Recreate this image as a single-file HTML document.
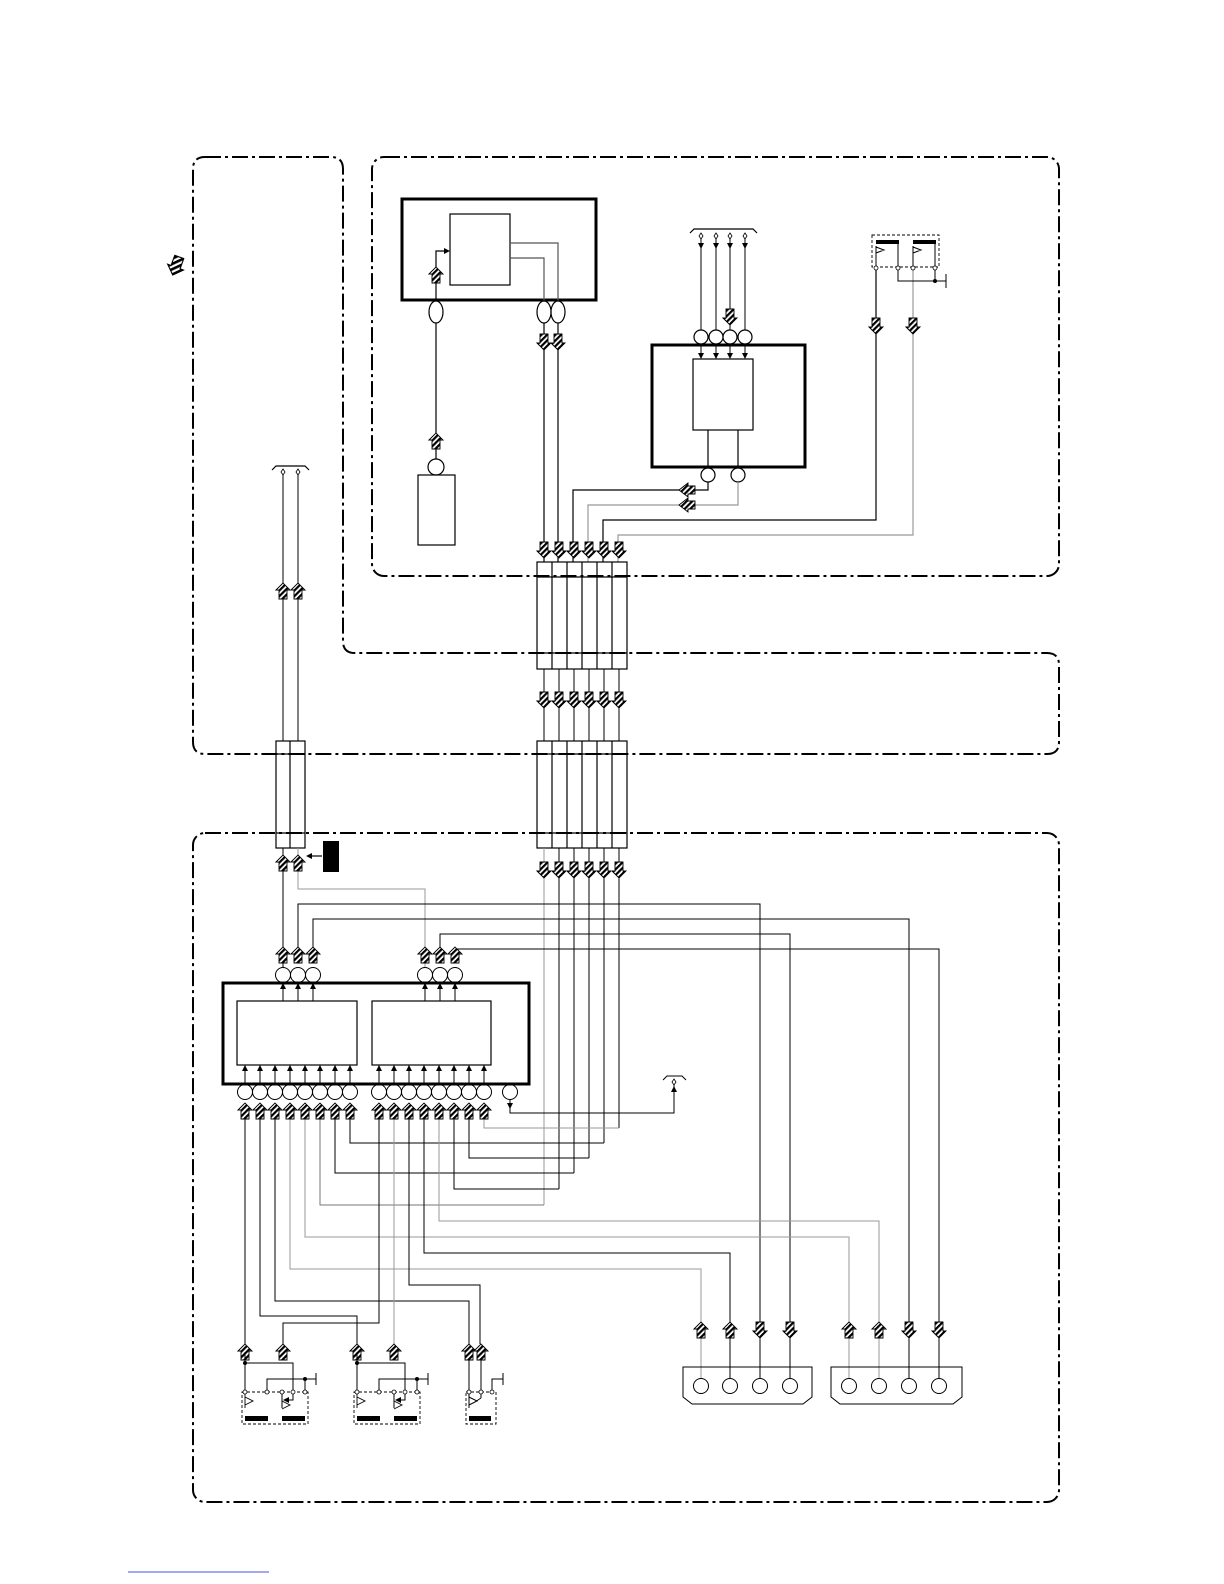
<!DOCTYPE html>
<html><head><meta charset="utf-8"><style>html,body{margin:0;padding:0;background:#fff}svg{display:block}</style></head>
<body>
<svg width="1224" height="1584" viewBox="0 0 1224 1584" xmlns="http://www.w3.org/2000/svg">
<defs>
<pattern id="h" width="4" height="4" patternUnits="userSpaceOnUse" patternTransform="rotate(45)"><rect width="4" height="4" fill="#fff"/><rect width="2.2" height="4" fill="#000"/></pattern>
<g id="ua"><path d="M-7,-1 L0,-8 L7,-1 L4,-1 L4,8 L-4,8 L-4,-1 Z" fill="url(#h)" stroke="#000" stroke-width="0.9"/></g>
<g id="da"><path d="M-7,1 L0,8 L7,1 L4,1 L4,-8 L-4,-8 L-4,1 Z" fill="url(#h)" stroke="#000" stroke-width="0.9"/></g>
<g id="la"><path d="M1,-7 L-8,0 L1,7 L1,4 L8,4 L8,-4 L1,-4 Z" fill="url(#h)" stroke="#000" stroke-width="0.9"/></g>
<path id="tu" d="M-3,0 L3,0 L0,-6 Z" fill="#000"/>
<path id="td" d="M-3,0 L3,0 L0,6 Z" fill="#000"/>
<path id="tr" d="M0,-3 L0,3 L6,0 Z" fill="#000"/>
<path id="tl" d="M0,-3 L0,3 L-6,0 Z" fill="#000"/>
<g id="sw">
 <rect x="-3" y="1392" width="66" height="32" fill="none" stroke="#000" stroke-width="0.9" stroke-dasharray="3 2"/>
 <path d="M0,1352 V1392 M0,1363 H48 V1392 M22,1392 V1379 H71 M71,1373 V1385 M60,1379 V1392 M37,1392 V1408 M48,1392 V1400 H43" fill="none" stroke="#000" stroke-width="1"/>
 <use href="#tl" x="44" y="1400"/>
 <path d="M0,1392 V1408 M0,1397 L8,1401 L0,1405 M37,1401 L45,1405 L37,1409" fill="none" stroke="#000" stroke-width="0.9"/>
 <circle cx="0" cy="1363" r="2" fill="#000"/><circle cx="60" cy="1379" r="2" fill="#000"/>
 <g fill="#fff" stroke="#000" stroke-width="0.8"><circle cx="0" cy="1392" r="2"/><circle cx="22" cy="1392" r="2"/><circle cx="37" cy="1392" r="2"/><circle cx="48" cy="1392" r="2"/><circle cx="60" cy="1392" r="2"/></g>
 <rect x="0" y="1416" width="23" height="5" fill="#000"/><rect x="37" y="1416" width="23" height="5" fill="#000"/>
</g>
</defs>

<g fill="none" stroke="#000" stroke-width="2" stroke-dasharray="16 4 3 4">
<path d="M205,157 H331 Q343,157 343,169 V641 Q343,653 355,653 H1047 Q1059,653 1059,665 V742 Q1059,754 1047,754 H205 Q193,754 193,742 V169 Q193,157 205,157 Z"/>
<rect x="372" y="157" width="687" height="419" rx="12"/>
<rect x="193" y="833" width="866" height="669" rx="12"/>
</g>

<use href="#da" transform="translate(176,266) rotate(20) scale(1.2)"/>

<!-- Box1 -->
<g fill="none" stroke="#000" stroke-width="1.2">
<rect x="402" y="199" width="194" height="101" stroke-width="3"/>
<rect x="450" y="214" width="60" height="71"/>
<path d="M436,300 V251 H445"/>
<path d="M510,243 H558 V301 M510,258 H544 V301" stroke="#555"/>
<ellipse cx="436" cy="312" rx="7" ry="11"/><ellipse cx="544" cy="312" rx="7" ry="11"/><ellipse cx="558" cy="312" rx="7" ry="11"/>
<path d="M436,323 V459"/>
<circle cx="436" cy="467" r="8"/>
<rect x="418" y="475" width="37" height="70"/>
<path d="M544,323 V562 M558,323 V562"/>
</g>
<use href="#tr" x="444" y="251"/>
<use href="#ua" x="436" y="275"/><use href="#ua" x="436" y="441"/>
<use href="#da" x="544" y="342"/><use href="#da" x="558" y="342"/>

<!-- Box2 -->
<g fill="none" stroke="#000" stroke-width="1.2">
<rect x="652" y="345" width="153" height="122" stroke-width="3"/>
<rect x="693" y="359" width="60" height="71"/>
<path d="M690,233 L694,229 H753 L757,233"/>
<path d="M701,238 V330 M716,238 V330 M730,238 V330 M745,238 V330" stroke-width="1"/>
<path d="M701,344 V358 M716,344 V358 M730,344 V358 M745,344 V358" stroke-width="1"/>
<circle cx="701" cy="337" r="7"/><circle cx="716" cy="337" r="7"/><circle cx="730" cy="337" r="7"/><circle cx="745" cy="337" r="7"/>
<path d="M708,430 V468 M738,430 V468"/>
<circle cx="708" cy="475" r="7"/><circle cx="738" cy="475" r="7"/>
<path d="M708,482 V490 H573 V562"/>
<path d="M738,482 V505 H588 V562" stroke="#999"/>
<path d="M603,562 V520 H876 V268"/>
<path d="M618,562 V535 H913 V268" stroke="#999"/>
</g>
<use href="#td" x="701" y="243"/><use href="#td" x="716" y="243"/><use href="#td" x="730" y="243"/><use href="#td" x="745" y="243"/>
<use href="#td" x="701" y="353"/><use href="#td" x="716" y="353"/><use href="#td" x="730" y="353"/><use href="#td" x="745" y="353"/>
<g fill="#fff" stroke="#000" stroke-width="0.8"><path d="M701,233 l2,3 -2,3 -2,-3z M716,233 l2,3 -2,3 -2,-3z M730,233 l2,3 -2,3 -2,-3z M745,233 l2,3 -2,3 -2,-3z"/></g>
<use href="#da" x="730" y="317"/>
<use href="#la" x="687" y="490"/><use href="#la" x="687" y="505"/>

<!-- top switch -->
<rect x="872" y="235" width="67" height="32" fill="none" stroke="#000" stroke-width="0.9" stroke-dasharray="3 2"/>
<rect x="876" y="240" width="23" height="4" fill="#000"/><rect x="913" y="240" width="23" height="4" fill="#000"/>
<path d="M898,243 V268 M935,243 V268 M876,247 L884,250 L876,253 M913,247 L921,250 L913,253 M876,246 V268 M913,246 V268 M898,268 V281 H946 M946,274 V288 M935,268 V281" fill="none" stroke="#000" stroke-width="1"/>
<circle cx="935" cy="281" r="2" fill="#000"/>
<g fill="#fff" stroke="#000" stroke-width="0.8"><circle cx="876" cy="268" r="2"/><circle cx="898" cy="268" r="2"/><circle cx="913" cy="268" r="2"/><circle cx="935" cy="268" r="2"/></g>
<use href="#da" x="876" y="326"/><use href="#da" x="913" y="326"/>

<!-- six-column blocks -->
<g fill="none" stroke="#000" stroke-width="1.2">
<rect x="537" y="562" width="90" height="107"/>
<rect x="537" y="741" width="90" height="107"/>
<path d="M552,562 V669 M567,562 V669 M582,562 V669 M597,562 V669 M612,562 V669 M537,577 H627 M537,653 H627"/>
<path d="M552,741 V848 M567,741 V848 M582,741 V848 M597,741 V848 M612,741 V848 M537,754 H627 M537,833 H627"/>
<path d="M544,669 V741 M559,669 V741 M574,669 V741 M589,669 V741 M604,669 V741 M619,669 V741" stroke-width="1"/>
<path d="M559,848 V1189 M574,848 V1173 M589,848 V1158 M604,848 V1143 M619,848 V1128" stroke-width="1"/>
<path d="M544,848 V1205" stroke="#999" stroke-width="1"/>
</g>
<use href="#da" x="544" y="550"/><use href="#da" x="559" y="550"/><use href="#da" x="574" y="550"/><use href="#da" x="589" y="550"/><use href="#da" x="604" y="550"/><use href="#da" x="619" y="550"/>
<use href="#da" x="544" y="700"/><use href="#da" x="559" y="700"/><use href="#da" x="574" y="700"/><use href="#da" x="589" y="700"/><use href="#da" x="604" y="700"/><use href="#da" x="619" y="700"/>
<use href="#da" x="544" y="870"/><use href="#da" x="559" y="870"/><use href="#da" x="574" y="870"/><use href="#da" x="589" y="870"/><use href="#da" x="604" y="870"/><use href="#da" x="619" y="870"/>

<!-- left pair -->
<g fill="none" stroke="#000" stroke-width="1.2">
<path d="M272,470 L276,466 H305 L309,470"/>
<path d="M283,474 V741 M298,474 V741" stroke-width="1"/>
<rect x="276" y="741" width="29" height="107"/>
<path d="M290,741 V848 M276,754 H305 M276,833 H305"/>
<path d="M283,848 V968" stroke-width="1"/>
<path d="M298,848 V889 H425 V968" stroke="#999" stroke-width="1"/>
<path d="M322,856 H311"/>
</g>
<use href="#tl" x="312" y="856"/>
<g fill="#fff" stroke="#000" stroke-width="0.8"><path d="M283,469 l2,3 -2,3 -2,-3z M298,469 l2,3 -2,3 -2,-3z"/></g>
<use href="#ua" x="283" y="591"/><use href="#ua" x="298" y="591"/>
<use href="#ua" x="283" y="863"/><use href="#ua" x="298" y="863"/>
<rect x="323" y="841" width="16" height="31" fill="#000"/>

<!-- bottom main box -->
<g fill="none" stroke="#000" stroke-width="1.2">
<rect x="223" y="983" width="306" height="101" stroke-width="3"/>
<rect x="237" y="1001" width="120" height="64"/>
<rect x="372" y="1001" width="119" height="64"/>
<g stroke-width="1">
<path d="M283,1001 V983 M298,1001 V983 M313,1001 V983 M425,1001 V983 M440,1001 V983 M455,1001 V983"/>
<path d="M245,1085 V1065 M260,1085 V1065 M275,1085 V1065 M290,1085 V1065 M305,1085 V1065 M320,1085 V1065 M335,1085 V1065 M350,1085 V1065 M379,1085 V1065 M394,1085 V1065 M409,1085 V1065 M424,1085 V1065 M439,1085 V1065 M454,1085 V1065 M469,1085 V1065 M484,1085 V1065"/>
</g>
<g stroke-width="1">
<circle cx="283" cy="975" r="7.5"/><circle cx="298" cy="975" r="7.5"/><circle cx="313" cy="975" r="7.5"/>
<circle cx="425" cy="975" r="7.5"/><circle cx="440" cy="975" r="7.5"/><circle cx="455" cy="975" r="7.5"/>
<circle cx="245" cy="1092" r="7.5"/><circle cx="260" cy="1092" r="7.5"/><circle cx="275" cy="1092" r="7.5"/><circle cx="290" cy="1092" r="7.5"/><circle cx="305" cy="1092" r="7.5"/><circle cx="320" cy="1092" r="7.5"/><circle cx="335" cy="1092" r="7.5"/><circle cx="350" cy="1092" r="7.5"/>
<circle cx="379" cy="1092" r="7.5"/><circle cx="394" cy="1092" r="7.5"/><circle cx="409" cy="1092" r="7.5"/><circle cx="424" cy="1092" r="7.5"/><circle cx="439" cy="1092" r="7.5"/><circle cx="454" cy="1092" r="7.5"/><circle cx="469" cy="1092" r="7.5"/><circle cx="484" cy="1092" r="7.5"/>
<circle cx="510" cy="1092" r="7.5"/>
</g>
<g stroke-width="1">
<path d="M298,947 V904 H760 V1378"/>
<path d="M313,947 V919 H909 V1378"/>
<path d="M440,947 V934 H790 V1378"/>
<path d="M455,947 V949 H939 V1378"/>
<path d="M510,1099 V1113 H674 V1085"/>
<path d="M663,1080 L667,1076 H682 L686,1080"/>
<path d="M245,1118 V1344"/>
<path d="M260,1118 V1316 H357 V1344"/>
<path d="M275,1118 V1301 H469 V1344"/>
<path d="M290,1118 V1269 H701 V1378" stroke="#999"/>
<path d="M305,1118 V1237 H849 V1378" stroke="#999"/>
<path d="M320,1118 V1205 H544" stroke="#777"/>
<path d="M335,1118 V1173 H574"/>
<path d="M350,1118 V1143 H604"/>
<path d="M379,1118 V1323 H283 V1344"/>
<path d="M394,1118 V1344" stroke="#999"/>
<path d="M409,1118 V1285 H480 V1344"/>
<path d="M424,1118 V1253 H730 V1378"/>
<path d="M439,1118 V1221 H879 V1378" stroke="#999"/>
<path d="M454,1118 V1189 H559"/>
<path d="M469,1118 V1158 H589"/>
<path d="M484,1118 V1128 H619" stroke="#999"/>
</g>
</g>
<g>
<use href="#tu" x="283" y="989"/><use href="#tu" x="298" y="989"/><use href="#tu" x="313" y="989"/>
<use href="#tu" x="425" y="989"/><use href="#tu" x="440" y="989"/><use href="#tu" x="455" y="989"/>
<use href="#tu" x="245" y="1071"/><use href="#tu" x="260" y="1071"/><use href="#tu" x="275" y="1071"/><use href="#tu" x="290" y="1071"/><use href="#tu" x="305" y="1071"/><use href="#tu" x="320" y="1071"/><use href="#tu" x="335" y="1071"/><use href="#tu" x="350" y="1071"/>
<use href="#tu" x="379" y="1071"/><use href="#tu" x="394" y="1071"/><use href="#tu" x="409" y="1071"/><use href="#tu" x="424" y="1071"/><use href="#tu" x="439" y="1071"/><use href="#tu" x="454" y="1071"/><use href="#tu" x="469" y="1071"/><use href="#tu" x="484" y="1071"/>
<use href="#td" x="510" y="1103"/>
<use href="#tu" x="674" y="1092"/>
</g>
<g fill="#fff" stroke="#000" stroke-width="0.8"><path d="M674,1079 l2,3 -2,3 -2,-3z"/></g>
<use href="#ua" x="283" y="955"/><use href="#ua" x="298" y="955"/><use href="#ua" x="313" y="955"/>
<use href="#ua" x="425" y="955"/><use href="#ua" x="440" y="955"/><use href="#ua" x="455" y="955"/>
<use href="#ua" x="245" y="1111"/><use href="#ua" x="260" y="1111"/><use href="#ua" x="275" y="1111"/><use href="#ua" x="290" y="1111"/><use href="#ua" x="305" y="1111"/><use href="#ua" x="320" y="1111"/><use href="#ua" x="335" y="1111"/><use href="#ua" x="350" y="1111"/>
<use href="#ua" x="379" y="1111"/><use href="#ua" x="394" y="1111"/><use href="#ua" x="409" y="1111"/><use href="#ua" x="424" y="1111"/><use href="#ua" x="439" y="1111"/><use href="#ua" x="454" y="1111"/><use href="#ua" x="469" y="1111"/><use href="#ua" x="484" y="1111"/>

<!-- bottom switches -->
<use href="#ua" x="245" y="1352"/><use href="#ua" x="283" y="1352"/>
<use href="#ua" x="357" y="1352"/><use href="#ua" x="394" y="1352"/>
<use href="#ua" x="469" y="1352"/><use href="#ua" x="481" y="1352"/>
<use href="#sw" x="245"/>
<use href="#sw" x="357"/>
<g fill="none" stroke="#000" stroke-width="1">
<rect x="466" y="1392" width="30" height="32" stroke-width="0.9" stroke-dasharray="3 2"/>
<path d="M469,1360 V1408 M481,1360 V1398 M492,1392 V1379 H503 M503,1373 V1385 M469,1397 L477,1401 L469,1405 M481,1398 L475,1402"/>
</g>
<g fill="#fff" stroke="#000" stroke-width="0.8"><circle cx="469" cy="1392" r="2"/><circle cx="481" cy="1392" r="2"/><circle cx="492" cy="1392" r="2"/></g>
<rect x="469" y="1416" width="22" height="5" fill="#000"/>

<!-- connectors -->
<g fill="none" stroke="#000" stroke-width="1">
<path d="M683,1367 H812 V1397 L803,1404 H692 L683,1397 Z"/>
<path d="M831,1367 H962 V1397 L953,1404 H840 L831,1397 Z"/>
<circle cx="701" cy="1386" r="7.5"/><circle cx="730" cy="1386" r="7.5"/><circle cx="760" cy="1386" r="7.5"/><circle cx="790" cy="1386" r="7.5"/>
<circle cx="849" cy="1386" r="7.5"/><circle cx="879" cy="1386" r="7.5"/><circle cx="909" cy="1386" r="7.5"/><circle cx="939" cy="1386" r="7.5"/>
</g>
<use href="#ua" x="701" y="1330"/><use href="#ua" x="730" y="1330"/><use href="#da" x="760" y="1330"/><use href="#da" x="790" y="1330"/>
<use href="#ua" x="849" y="1330"/><use href="#ua" x="879" y="1330"/><use href="#da" x="909" y="1330"/><use href="#da" x="939" y="1330"/>

<line x1="128" y1="1572" x2="269" y2="1572" stroke="#4455dd" stroke-width="1"/>
</svg>
</body></html>
